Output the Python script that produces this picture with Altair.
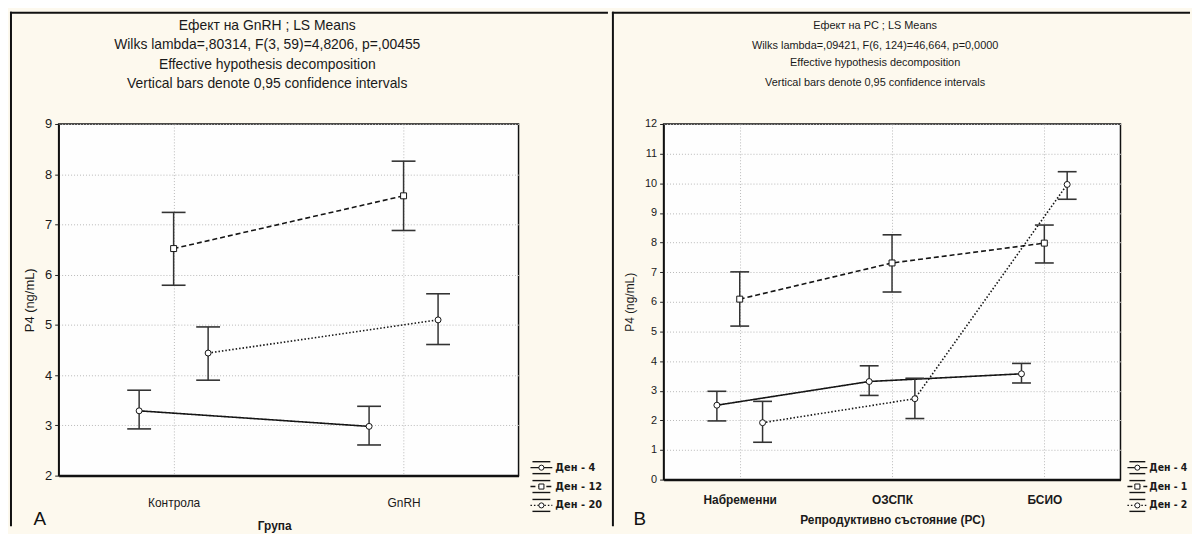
import json
import altair as alt
import pandas as pd

series = ["Ден - 4", "Ден - 12", "Ден - 20"]

# ---------------- Panel A ----------------
cats_a = ["Контрола", "GnRH"]
a_mean_d4 = [3.29, 2.98]
a_low_d4 = [2.93, 2.61]
a_up_d4 = [3.70, 3.38]
a_mean_d12 = [6.52, 7.57]
a_low_d12 = [5.79, 6.88]
a_up_d12 = [7.24, 8.26]
a_mean_d20 = [4.44, 5.10]
a_low_d20 = [3.90, 4.61]
a_up_d20 = [4.96, 5.62]
yticks_a = [2, 3, 4, 5, 6, 7, 8, 9]
title_a = [
    "Ефект на GnRH ; LS Means",
    "Wilks lambda=,80314, F(3, 59)=4,8206, p=,00455",
    "Effective hypothesis decomposition",
    "Vertical bars denote 0,95 confidence intervals",
]
xtitle_a = "Група"

# ---------------- Panel B ----------------
cats_b = ["Набременни", "ОЗСПК", "БСИО"]
b_mean_d4 = [2.51, 3.31, 3.57]
b_low_d4 = [1.98, 2.84, 3.26]
b_up_d4 = [2.98, 3.84, 3.92]
b_mean_d12 = [6.09, 7.31, 7.98]
b_low_d12 = [5.18, 6.33, 7.31]
b_up_d12 = [7.01, 8.26, 8.59]
b_mean_d20 = [1.92, 2.73, 9.96]
b_low_d20 = [1.26, 2.06, 9.46]
b_up_d20 = [2.64, 3.42, 10.39]
yticks_b = [0, 1, 2, 3, 4, 5, 6, 7, 8, 9, 10, 11, 12]
title_b = [
    "Ефект на PC ; LS Means",
    "Wilks lambda=,09421, F(6, 124)=46,664, p=0,0000",
    "Effective hypothesis decomposition",
    "Vertical bars denote 0,95 confidence intervals",
]
xtitle_b = "Репродуктивно състояние (PC)"

ytitle = "P4 (ng/mL)"

FONT = "Liberation Sans"
NARROW = "Liberation Sans Narrow, DejaVu Sans Condensed, Liberation Sans"
dodge = {"Ден - 4": -0.15, "Ден - 12": 0.0, "Ден - 20": 0.15}
dash_range = [[1, 0], [5, 3], [1.5, 2]]
shape_range = ["circle", "square", "circle"]
INK = "#151515"


def table(cats, means, lows, ups):
    rows = []
    for s, m, l, u in zip(series, means, lows, ups):
        for c, mv, lv, uv in zip(cats, m, l, u):
            rows.append({"cat": c, "series": s, "mean": mv, "low": lv, "up": uv})
    return pd.DataFrame(rows)


def panel(cats, df, titles, xtitle, letter, ydom, yticks, w, h, geo):
    n = len(cats)
    cat_js = json.dumps(cats, ensure_ascii=False)
    dodge_expr = " : ".join(
        f'datum.series === "{k}" ? {v}' for k, v in dodge.items()
    ) + " : 0"
    xexpr = f"indexof({cat_js}, datum.cat) + ({dodge_expr})"

    base = alt.Chart(df).transform_calculate(xpos=xexpr)

    xscale = alt.Scale(domain=[-0.5, n - 0.5], nice=False, zero=False)
    xaxis = alt.Axis(
        values=list(range(n)),
        labelExpr=f"{cat_js}[datum.value]",
        title=xtitle,
        grid=True,
        ticks=False,
        labelFont=FONT,
        labelFontSize=geo["xlab_fs"],
        labelFontWeight=geo["xlab_fw"],
        labelPadding=geo["xlab_pad"],
        labelColor="#1a1a1a",
        labelOverlap=False,
        titleFont=FONT,
        titleFontSize=geo["xtit_fs"],
        titleFontWeight="bold",
        titlePadding=geo["xtit_pad"],
        titleColor="#1a1a1a",
        titleX=geo["xtit_x"],
        domainColor="#111",
        domainWidth=2.2,
    )
    yscale = alt.Scale(domain=ydom, nice=False, zero=False)
    yaxis = alt.Axis(
        values=yticks,
        tickCount=len(yticks),
        title=ytitle,
        grid=True,
        tickSize=4,
        tickColor="#222",
        labelFont=FONT,
        labelFontSize=geo["ylab_fs"],
        labelPadding=3,
        labelColor="#1a1a1a",
        labelOverlap=False,
        titleFont=FONT,
        titleFontSize=geo["ytit_fs"],
        titleFontWeight="normal",
        titlePadding=geo["ytit_pad"],
        titleColor="#1a1a1a",
        domainColor="#111",
        domainWidth=1.5,
    )
    dash_enc = alt.StrokeDash(
        "series:N", scale=alt.Scale(domain=series, range=dash_range), legend=None
    )
    shape_enc = alt.Shape(
        "series:N", scale=alt.Scale(domain=series, range=shape_range), legend=None
    )

    def X():
        return alt.X("xpos:Q", scale=xscale, axis=xaxis)

    def Y(field):
        return alt.Y(field, type="quantitative", scale=yscale, axis=yaxis)

    lines = base.mark_line(color=INK, strokeWidth=1.6).encode(
        x=X(), y=Y("mean"), strokeDash=dash_enc
    )
    bars = base.mark_rule(color="#333", strokeWidth=1.5).encode(
        x=X(), y=Y("low"), y2="up:Q"
    )
    cap_lo = base.mark_tick(
        orient="horizontal", color="#333", thickness=1.6, size=geo["cap"], opacity=1
    ).encode(x=X(), y=Y("low"))
    cap_hi = base.mark_tick(
        orient="horizontal", color="#333", thickness=1.6, size=geo["cap"], opacity=1
    ).encode(x=X(), y=Y("up"))
    points = base.mark_point(
        filled=True, fill="white", stroke=INK, strokeWidth=1, size=36, opacity=1
    ).encode(x=X(), y=Y("mean"), shape=shape_enc)
    data_layer = alt.layer(lines, bars, cap_lo, cap_hi, points)

    # ---- legend (drawn with the same dash / shape scales) ----
    leg = alt.Chart(pd.DataFrame({"series": series}))
    ly = alt.Y(
        "series:N",
        sort=series,
        scale=alt.Scale(type="point", domain=series, range=geo["leg_rows"], padding=0),
        axis=None,
    )
    lx0, lx1 = geo["leg_x"], geo["leg_x"] + geo["leg_w"]
    lxc = (lx0 + lx1) / 2
    leg_line = leg.mark_rule(color=INK, strokeWidth=1.4).encode(
        x=alt.value(lx0), x2=alt.value(lx1), y=ly, strokeDash=dash_enc
    )
    leg_cap_t = leg.mark_rule(color=INK, strokeWidth=1.4, yOffset=-6).encode(
        x=alt.value(lx0 + 2), x2=alt.value(lx1 - 2), y=ly
    )
    leg_cap_b = leg.mark_rule(color=INK, strokeWidth=1.4, yOffset=6).encode(
        x=alt.value(lx0 + 2), x2=alt.value(lx1 - 2), y=ly
    )
    leg_pts = leg.mark_point(
        filled=True, fill="white", stroke=INK, strokeWidth=1, size=26, opacity=1
    ).encode(x=alt.value(lxc), y=ly, shape=shape_enc)
    leg_txt = leg.mark_text(
        align="left",
        baseline="middle",
        font=NARROW,
        fontSize=geo["leg_fs"],
        fontWeight="bold",
        color="#1a1a1a",
        limit=geo["leg_limit"],
        ellipsis="\u200b",
    ).encode(x=alt.value(lx1 + geo["leg_gap"]), y=ly, text="series:N")
    legend_layer = alt.layer(leg_line, leg_cap_t, leg_cap_b, leg_pts, leg_txt)

    one = alt.Data(values=[{"k": 0}])
    top_rule = alt.Chart(one).mark_rule(color="#111", strokeWidth=2).encode(
        x=alt.value(geo["left"]), x2=alt.value(geo["right"]), y=alt.value(-112)
    )
    side_rule = alt.Chart(one).mark_rule(color="#111", strokeWidth=2).encode(
        x=alt.value(geo["left"] + 1), y=alt.value(-113), y2=alt.value(geo["bottom"])
    )
    letter_txt = alt.Chart(one).mark_text(
        text=letter, font=FONT, fontSize=19, align="center", baseline="middle", color="#111"
    ).encode(x=alt.value(geo["let_x"]), y=alt.value(geo["let_y"]))

    title_layers = []
    for i, line in enumerate(titles):
        title_layers.append(
            alt.Chart(one)
            .mark_text(
                text=line,
                font=FONT,
                fontSize=geo["tit_fs"],
                align="center",
                baseline="middle",
                color="#1a1a1a",
            )
            .encode(x=alt.value(geo["tit_x"]), y=alt.value(geo["tit_y"][i]))
        )

    return (
        alt.layer(top_rule, side_rule, *title_layers, data_layer, legend_layer, letter_txt)
        .resolve_scale(y="independent")
        .properties(width=w, height=h)
    )


df_a = table(
    cats_a,
    [a_mean_d4, a_mean_d12, a_mean_d20],
    [a_low_d4, a_low_d12, a_low_d20],
    [a_up_d4, a_up_d12, a_up_d20],
)
df_b = table(
    cats_b,
    [b_mean_d4, b_mean_d12, b_mean_d20],
    [b_low_d4, b_low_d12, b_low_d20],
    [b_up_d4, b_up_d12, b_up_d20],
)

geo_a = dict(
    xlab_fs=12, xlab_fw="normal", xlab_pad=22, xtit_fs=12, xtit_pad=12, xtit_x=217,
    ylab_fs=13, ytit_fs=13, ytit_pad=8,
    leg_x=475, leg_w=22, leg_gap=3, leg_rows=[346, 384], leg_fs=11, leg_limit=60,
    cap=24, left=-49, right=553, bottom=405, let_x=-19, let_y=398,
    tit_fs=14, tit_x=210, tit_y=[-99, -79, -59, -40],
)
geo_b = dict(
    xlab_fs=12, xlab_fw="bold", xlab_pad=15, xtit_fs=12, xtit_pad=9, xtit_x=230,
    ylab_fs=11, ytit_fs=12, ytit_pad=8,
    leg_x=467, leg_w=20, leg_gap=2, leg_rows=[346, 384], leg_fs=10.5, leg_limit=41,
    cap=19, left=-52, right=530, bottom=405, let_x=-24, let_y=398,
    tit_fs=11, tit_x=213, tit_y=[-99, -79, -61, -41],
)

pa = panel(cats_a, df_a, title_a, xtitle_a, "A", [2, 9], yticks_a, 463, 354, geo_a)
pb = panel(cats_b, df_b, title_b, xtitle_b, "B", [0, 12], yticks_b, 460, 358, geo_b)

chart = (
    alt.hconcat(pa, pb, spacing=0)
    .resolve_scale(strokeDash="independent", shape="independent")
    .properties(padding=0, background="#fdf9ee")
    .configure_view(stroke="#111", strokeWidth=1.5, fill="#fefefe")
    .configure_axis(gridColor="#b8b8b8", gridDash=[1, 2], gridWidth=1)
)

chart.save("out.html", embed_options={"renderer": "svg", "actions": False})
